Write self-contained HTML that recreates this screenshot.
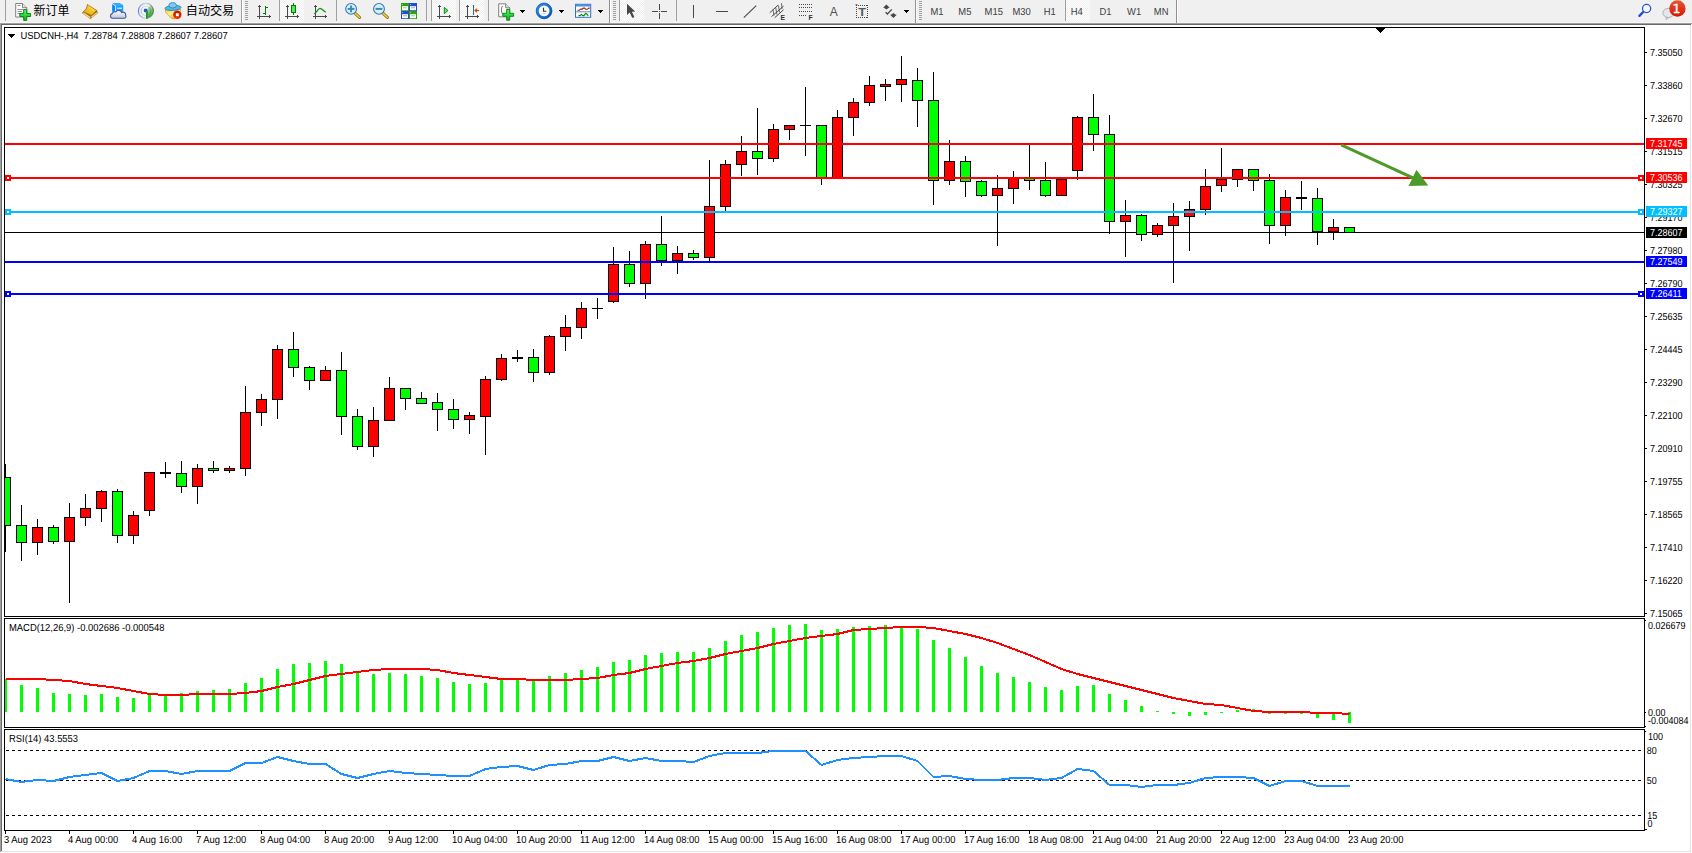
<!DOCTYPE html>
<html><head><meta charset="utf-8"><title>USDCNH-,H4</title>
<style>
html,body{margin:0;padding:0;background:#fff;overflow:hidden}
body{width:1692px;height:853px}
svg{display:block;font-family:"Liberation Sans","Noto Sans CJK SC",sans-serif}
svg text{white-space:pre}
</style></head><body>
<svg width="1692" height="853" viewBox="0 0 1692 853" shape-rendering="crispEdges">
<rect x="0" y="0" width="1692" height="853" fill="#fff"/>
<rect x="0" y="0" width="1692" height="22" fill="#f0f0f0"/>
<rect x="0" y="22" width="1692" height="1" fill="#f6f6f6"/>
<rect x="0" y="23" width="1692" height="1" fill="#a0a0a0"/>
<rect x="0" y="24" width="1691" height="1" fill="#696969"/>
<rect x="0" y="24" width="1" height="828" fill="#a0a0a0"/>
<rect x="1" y="25" width="1" height="826" fill="#696969"/>
<rect x="1690" y="25" width="1" height="827" fill="#e3e3e3"/>
<rect x="1" y="851" width="1690" height="1" fill="#e3e3e3"/>
<rect x="1691" y="24" width="1" height="829" fill="#ffffff"/>
<rect x="0" y="852" width="1692" height="1" fill="#ffffff"/>
<rect x="4" y="27" width="1641" height="1" fill="#000"/>
<rect x="4" y="616" width="1641" height="1" fill="#000"/>
<rect x="4" y="27" width="1" height="590" fill="#000"/>
<rect x="1644" y="27" width="1" height="590" fill="#000"/>
<rect x="4" y="618" width="1641" height="1" fill="#000"/>
<rect x="4" y="727" width="1641" height="1" fill="#000"/>
<rect x="4" y="618" width="1" height="110" fill="#000"/>
<rect x="1644" y="618" width="1" height="110" fill="#000"/>
<rect x="4" y="729" width="1641" height="1" fill="#000"/>
<rect x="4" y="830" width="1641" height="1" fill="#000"/>
<rect x="4" y="729" width="1" height="102" fill="#000"/>
<rect x="1644" y="729" width="1" height="102" fill="#000"/>
<clipPath id="cp"><rect x="5" y="28" width="1639" height="588"/></clipPath>
<g clip-path="url(#cp)">
<rect x="5" y="232" width="1639" height="1" fill="#000"/>
<rect x="5" y="464" width="1" height="88" fill="#000"/>
<rect x="0" y="477" width="11" height="49" fill="#000"/>
<rect x="1" y="478" width="9" height="47" fill="#00ff00"/>
<rect x="21" y="505" width="1" height="56" fill="#000"/>
<rect x="16" y="525" width="11" height="18" fill="#000"/>
<rect x="17" y="526" width="9" height="16" fill="#00ff00"/>
<rect x="37" y="519" width="1" height="36" fill="#000"/>
<rect x="32" y="527" width="11" height="16" fill="#000"/>
<rect x="33" y="528" width="9" height="14" fill="#ff0000"/>
<rect x="53" y="525" width="1" height="19" fill="#000"/>
<rect x="48" y="527" width="11" height="15" fill="#000"/>
<rect x="49" y="528" width="9" height="13" fill="#00ff00"/>
<rect x="69" y="503" width="1" height="100" fill="#000"/>
<rect x="64" y="517" width="11" height="25" fill="#000"/>
<rect x="65" y="518" width="9" height="23" fill="#ff0000"/>
<rect x="85" y="494" width="1" height="32" fill="#000"/>
<rect x="80" y="508" width="11" height="10" fill="#000"/>
<rect x="81" y="509" width="9" height="8" fill="#ff0000"/>
<rect x="101" y="490" width="1" height="32" fill="#000"/>
<rect x="96" y="491" width="11" height="18" fill="#000"/>
<rect x="97" y="492" width="9" height="16" fill="#ff0000"/>
<rect x="117" y="489" width="1" height="54" fill="#000"/>
<rect x="112" y="491" width="11" height="45" fill="#000"/>
<rect x="113" y="492" width="9" height="43" fill="#00ff00"/>
<rect x="133" y="511" width="1" height="33" fill="#000"/>
<rect x="128" y="515" width="11" height="21" fill="#000"/>
<rect x="129" y="516" width="9" height="19" fill="#ff0000"/>
<rect x="149" y="472" width="1" height="44" fill="#000"/>
<rect x="144" y="472" width="11" height="39" fill="#000"/>
<rect x="145" y="473" width="9" height="37" fill="#ff0000"/>
<rect x="165" y="462" width="1" height="16" fill="#000"/>
<rect x="160" y="472" width="11" height="2" fill="#000"/>
<rect x="181" y="461" width="1" height="32" fill="#000"/>
<rect x="176" y="473" width="11" height="14" fill="#000"/>
<rect x="177" y="474" width="9" height="12" fill="#00ff00"/>
<rect x="197" y="464" width="1" height="40" fill="#000"/>
<rect x="192" y="468" width="11" height="19" fill="#000"/>
<rect x="193" y="469" width="9" height="17" fill="#ff0000"/>
<rect x="213" y="461" width="1" height="12" fill="#000"/>
<rect x="208" y="468" width="11" height="3" fill="#000"/>
<rect x="209" y="469" width="9" height="1" fill="#00ff00"/>
<rect x="229" y="466" width="1" height="7" fill="#000"/>
<rect x="224" y="468" width="11" height="3" fill="#000"/>
<rect x="225" y="469" width="9" height="1" fill="#ff0000"/>
<rect x="245" y="386" width="1" height="90" fill="#000"/>
<rect x="240" y="412" width="11" height="57" fill="#000"/>
<rect x="241" y="413" width="9" height="55" fill="#ff0000"/>
<rect x="261" y="394" width="1" height="32" fill="#000"/>
<rect x="256" y="399" width="11" height="14" fill="#000"/>
<rect x="257" y="400" width="9" height="12" fill="#ff0000"/>
<rect x="277" y="345" width="1" height="74" fill="#000"/>
<rect x="272" y="349" width="11" height="51" fill="#000"/>
<rect x="273" y="350" width="9" height="49" fill="#ff0000"/>
<rect x="293" y="332" width="1" height="45" fill="#000"/>
<rect x="288" y="349" width="11" height="19" fill="#000"/>
<rect x="289" y="350" width="9" height="17" fill="#00ff00"/>
<rect x="309" y="366" width="1" height="24" fill="#000"/>
<rect x="304" y="367" width="11" height="14" fill="#000"/>
<rect x="305" y="368" width="9" height="12" fill="#00ff00"/>
<rect x="325" y="366" width="1" height="15" fill="#000"/>
<rect x="320" y="370" width="11" height="11" fill="#000"/>
<rect x="321" y="371" width="9" height="9" fill="#ff0000"/>
<rect x="341" y="352" width="1" height="83" fill="#000"/>
<rect x="336" y="370" width="11" height="47" fill="#000"/>
<rect x="337" y="371" width="9" height="45" fill="#00ff00"/>
<rect x="357" y="409" width="1" height="41" fill="#000"/>
<rect x="352" y="416" width="11" height="31" fill="#000"/>
<rect x="353" y="417" width="9" height="29" fill="#00ff00"/>
<rect x="373" y="407" width="1" height="50" fill="#000"/>
<rect x="368" y="420" width="11" height="27" fill="#000"/>
<rect x="369" y="421" width="9" height="25" fill="#ff0000"/>
<rect x="389" y="377" width="1" height="44" fill="#000"/>
<rect x="384" y="388" width="11" height="33" fill="#000"/>
<rect x="385" y="389" width="9" height="31" fill="#ff0000"/>
<rect x="405" y="388" width="1" height="22" fill="#000"/>
<rect x="400" y="388" width="11" height="11" fill="#000"/>
<rect x="401" y="389" width="9" height="9" fill="#00ff00"/>
<rect x="421" y="392" width="1" height="12" fill="#000"/>
<rect x="416" y="398" width="11" height="6" fill="#000"/>
<rect x="417" y="399" width="9" height="4" fill="#00ff00"/>
<rect x="437" y="393" width="1" height="38" fill="#000"/>
<rect x="432" y="402" width="11" height="8" fill="#000"/>
<rect x="433" y="403" width="9" height="6" fill="#00ff00"/>
<rect x="453" y="399" width="1" height="30" fill="#000"/>
<rect x="448" y="409" width="11" height="11" fill="#000"/>
<rect x="449" y="410" width="9" height="9" fill="#00ff00"/>
<rect x="469" y="412" width="1" height="22" fill="#000"/>
<rect x="464" y="415" width="11" height="5" fill="#000"/>
<rect x="465" y="416" width="9" height="3" fill="#ff0000"/>
<rect x="485" y="376" width="1" height="79" fill="#000"/>
<rect x="480" y="379" width="11" height="38" fill="#000"/>
<rect x="481" y="380" width="9" height="36" fill="#ff0000"/>
<rect x="501" y="354" width="1" height="27" fill="#000"/>
<rect x="496" y="358" width="11" height="22" fill="#000"/>
<rect x="497" y="359" width="9" height="20" fill="#ff0000"/>
<rect x="517" y="350" width="1" height="12" fill="#000"/>
<rect x="512" y="357" width="11" height="2" fill="#000"/>
<rect x="533" y="349" width="1" height="33" fill="#000"/>
<rect x="528" y="357" width="11" height="16" fill="#000"/>
<rect x="529" y="358" width="9" height="14" fill="#00ff00"/>
<rect x="549" y="335" width="1" height="40" fill="#000"/>
<rect x="544" y="336" width="11" height="37" fill="#000"/>
<rect x="545" y="337" width="9" height="35" fill="#ff0000"/>
<rect x="565" y="315" width="1" height="36" fill="#000"/>
<rect x="560" y="327" width="11" height="10" fill="#000"/>
<rect x="561" y="328" width="9" height="8" fill="#ff0000"/>
<rect x="581" y="302" width="1" height="37" fill="#000"/>
<rect x="576" y="308" width="11" height="20" fill="#000"/>
<rect x="577" y="309" width="9" height="18" fill="#ff0000"/>
<rect x="597" y="298" width="1" height="21" fill="#000"/>
<rect x="592" y="308" width="11" height="1" fill="#000"/>
<rect x="613" y="247" width="1" height="56" fill="#000"/>
<rect x="608" y="264" width="11" height="38" fill="#000"/>
<rect x="609" y="265" width="9" height="36" fill="#ff0000"/>
<rect x="629" y="251" width="1" height="36" fill="#000"/>
<rect x="624" y="264" width="11" height="20" fill="#000"/>
<rect x="625" y="265" width="9" height="18" fill="#00ff00"/>
<rect x="645" y="241" width="1" height="58" fill="#000"/>
<rect x="640" y="244" width="11" height="40" fill="#000"/>
<rect x="641" y="245" width="9" height="38" fill="#ff0000"/>
<rect x="661" y="216" width="1" height="50" fill="#000"/>
<rect x="656" y="244" width="11" height="17" fill="#000"/>
<rect x="657" y="245" width="9" height="15" fill="#00ff00"/>
<rect x="677" y="246" width="1" height="28" fill="#000"/>
<rect x="672" y="253" width="11" height="8" fill="#000"/>
<rect x="673" y="254" width="9" height="6" fill="#ff0000"/>
<rect x="693" y="250" width="1" height="10" fill="#000"/>
<rect x="688" y="253" width="11" height="5" fill="#000"/>
<rect x="689" y="254" width="9" height="3" fill="#00ff00"/>
<rect x="709" y="160" width="1" height="102" fill="#000"/>
<rect x="704" y="206" width="11" height="52" fill="#000"/>
<rect x="705" y="207" width="9" height="50" fill="#ff0000"/>
<rect x="725" y="160" width="1" height="51" fill="#000"/>
<rect x="720" y="164" width="11" height="43" fill="#000"/>
<rect x="721" y="165" width="9" height="41" fill="#ff0000"/>
<rect x="741" y="136" width="1" height="40" fill="#000"/>
<rect x="736" y="151" width="11" height="14" fill="#000"/>
<rect x="737" y="152" width="9" height="12" fill="#ff0000"/>
<rect x="757" y="108" width="1" height="67" fill="#000"/>
<rect x="752" y="151" width="11" height="8" fill="#000"/>
<rect x="753" y="152" width="9" height="6" fill="#00ff00"/>
<rect x="773" y="124" width="1" height="38" fill="#000"/>
<rect x="768" y="129" width="11" height="30" fill="#000"/>
<rect x="769" y="130" width="9" height="28" fill="#ff0000"/>
<rect x="789" y="125" width="1" height="15" fill="#000"/>
<rect x="784" y="125" width="11" height="5" fill="#000"/>
<rect x="785" y="126" width="9" height="3" fill="#ff0000"/>
<rect x="805" y="87" width="1" height="69" fill="#000"/>
<rect x="800" y="125" width="11" height="1" fill="#000"/>
<rect x="821" y="125" width="1" height="60" fill="#000"/>
<rect x="816" y="125" width="11" height="53" fill="#000"/>
<rect x="817" y="126" width="9" height="51" fill="#00ff00"/>
<rect x="837" y="110" width="1" height="68" fill="#000"/>
<rect x="832" y="117" width="11" height="61" fill="#000"/>
<rect x="833" y="118" width="9" height="59" fill="#ff0000"/>
<rect x="853" y="98" width="1" height="38" fill="#000"/>
<rect x="848" y="102" width="11" height="16" fill="#000"/>
<rect x="849" y="103" width="9" height="14" fill="#ff0000"/>
<rect x="869" y="76" width="1" height="30" fill="#000"/>
<rect x="864" y="85" width="11" height="18" fill="#000"/>
<rect x="865" y="86" width="9" height="16" fill="#ff0000"/>
<rect x="885" y="79" width="1" height="22" fill="#000"/>
<rect x="880" y="84" width="11" height="3" fill="#000"/>
<rect x="881" y="85" width="9" height="1" fill="#ff0000"/>
<rect x="901" y="56" width="1" height="46" fill="#000"/>
<rect x="896" y="79" width="11" height="6" fill="#000"/>
<rect x="897" y="80" width="9" height="4" fill="#ff0000"/>
<rect x="917" y="68" width="1" height="59" fill="#000"/>
<rect x="912" y="80" width="11" height="21" fill="#000"/>
<rect x="913" y="81" width="9" height="19" fill="#00ff00"/>
<rect x="933" y="72" width="1" height="133" fill="#000"/>
<rect x="928" y="100" width="11" height="81" fill="#000"/>
<rect x="929" y="101" width="9" height="79" fill="#00ff00"/>
<rect x="949" y="140" width="1" height="45" fill="#000"/>
<rect x="944" y="161" width="11" height="20" fill="#000"/>
<rect x="945" y="162" width="9" height="18" fill="#ff0000"/>
<rect x="965" y="156" width="1" height="41" fill="#000"/>
<rect x="960" y="161" width="11" height="21" fill="#000"/>
<rect x="961" y="162" width="9" height="19" fill="#00ff00"/>
<rect x="981" y="180" width="1" height="17" fill="#000"/>
<rect x="976" y="181" width="11" height="15" fill="#000"/>
<rect x="977" y="182" width="9" height="13" fill="#00ff00"/>
<rect x="997" y="175" width="1" height="71" fill="#000"/>
<rect x="992" y="188" width="11" height="8" fill="#000"/>
<rect x="993" y="189" width="9" height="6" fill="#ff0000"/>
<rect x="1013" y="171" width="1" height="33" fill="#000"/>
<rect x="1008" y="177" width="11" height="12" fill="#000"/>
<rect x="1009" y="178" width="9" height="10" fill="#ff0000"/>
<rect x="1029" y="144" width="1" height="46" fill="#000"/>
<rect x="1024" y="177" width="11" height="4" fill="#000"/>
<rect x="1025" y="178" width="9" height="2" fill="#00ff00"/>
<rect x="1045" y="162" width="1" height="35" fill="#000"/>
<rect x="1040" y="180" width="11" height="16" fill="#000"/>
<rect x="1041" y="181" width="9" height="14" fill="#00ff00"/>
<rect x="1061" y="178" width="1" height="18" fill="#000"/>
<rect x="1056" y="179" width="11" height="17" fill="#000"/>
<rect x="1057" y="180" width="9" height="15" fill="#ff0000"/>
<rect x="1077" y="116" width="1" height="64" fill="#000"/>
<rect x="1072" y="117" width="11" height="54" fill="#000"/>
<rect x="1073" y="118" width="9" height="52" fill="#ff0000"/>
<rect x="1093" y="94" width="1" height="57" fill="#000"/>
<rect x="1088" y="117" width="11" height="18" fill="#000"/>
<rect x="1089" y="118" width="9" height="16" fill="#00ff00"/>
<rect x="1109" y="115" width="1" height="119" fill="#000"/>
<rect x="1104" y="134" width="11" height="88" fill="#000"/>
<rect x="1105" y="135" width="9" height="86" fill="#00ff00"/>
<rect x="1125" y="200" width="1" height="57" fill="#000"/>
<rect x="1120" y="215" width="11" height="7" fill="#000"/>
<rect x="1121" y="216" width="9" height="5" fill="#ff0000"/>
<rect x="1141" y="214" width="1" height="27" fill="#000"/>
<rect x="1136" y="215" width="11" height="20" fill="#000"/>
<rect x="1137" y="216" width="9" height="18" fill="#00ff00"/>
<rect x="1157" y="223" width="1" height="14" fill="#000"/>
<rect x="1152" y="225" width="11" height="10" fill="#000"/>
<rect x="1153" y="226" width="9" height="8" fill="#ff0000"/>
<rect x="1173" y="203" width="1" height="80" fill="#000"/>
<rect x="1168" y="216" width="11" height="10" fill="#000"/>
<rect x="1169" y="217" width="9" height="8" fill="#ff0000"/>
<rect x="1189" y="201" width="1" height="50" fill="#000"/>
<rect x="1184" y="209" width="11" height="8" fill="#000"/>
<rect x="1185" y="210" width="9" height="6" fill="#ff0000"/>
<rect x="1205" y="169" width="1" height="46" fill="#000"/>
<rect x="1200" y="186" width="11" height="24" fill="#000"/>
<rect x="1201" y="187" width="9" height="22" fill="#ff0000"/>
<rect x="1221" y="148" width="1" height="44" fill="#000"/>
<rect x="1216" y="179" width="11" height="7" fill="#000"/>
<rect x="1217" y="180" width="9" height="5" fill="#ff0000"/>
<rect x="1237" y="169" width="1" height="18" fill="#000"/>
<rect x="1232" y="169" width="11" height="11" fill="#000"/>
<rect x="1233" y="170" width="9" height="9" fill="#ff0000"/>
<rect x="1253" y="169" width="1" height="22" fill="#000"/>
<rect x="1248" y="169" width="11" height="12" fill="#000"/>
<rect x="1249" y="170" width="9" height="10" fill="#00ff00"/>
<rect x="1269" y="174" width="1" height="70" fill="#000"/>
<rect x="1264" y="180" width="11" height="46" fill="#000"/>
<rect x="1265" y="181" width="9" height="44" fill="#00ff00"/>
<rect x="1285" y="190" width="1" height="46" fill="#000"/>
<rect x="1280" y="197" width="11" height="29" fill="#000"/>
<rect x="1281" y="198" width="9" height="27" fill="#ff0000"/>
<rect x="1301" y="181" width="1" height="29" fill="#000"/>
<rect x="1296" y="197" width="11" height="2" fill="#000"/>
<rect x="1317" y="188" width="1" height="57" fill="#000"/>
<rect x="1312" y="198" width="11" height="34" fill="#000"/>
<rect x="1313" y="199" width="9" height="32" fill="#00ff00"/>
<rect x="1333" y="219" width="1" height="21" fill="#000"/>
<rect x="1328" y="227" width="11" height="5" fill="#000"/>
<rect x="1329" y="228" width="9" height="3" fill="#ff0000"/>
<rect x="1349" y="227" width="1" height="6" fill="#000"/>
<rect x="1344" y="227" width="11" height="6" fill="#000"/>
<rect x="1345" y="228" width="9" height="4" fill="#00ff00"/>
<rect x="5" y="143" width="1639" height="2" fill="#ff0000"/>
<rect x="5" y="177" width="1639" height="2" fill="#ff0000"/>
<rect x="5" y="175" width="6" height="6" fill="#ff0000"/>
<rect x="7" y="177" width="2" height="2" fill="#fff"/>
<rect x="1638" y="175" width="6" height="6" fill="#ff0000"/>
<rect x="1640" y="177" width="2" height="2" fill="#fff"/>
<rect x="5" y="211" width="1639" height="2" fill="#00bfff"/>
<rect x="5" y="209" width="6" height="6" fill="#00bfff"/>
<rect x="7" y="211" width="2" height="2" fill="#fff"/>
<rect x="1638" y="209" width="6" height="6" fill="#00bfff"/>
<rect x="1640" y="211" width="2" height="2" fill="#fff"/>
<rect x="5" y="261" width="1639" height="2" fill="#0000ff"/>
<rect x="5" y="293" width="1639" height="2" fill="#0000ff"/>
<rect x="5" y="291" width="6" height="6" fill="#0000ff"/>
<rect x="7" y="293" width="2" height="2" fill="#fff"/>
<rect x="1638" y="291" width="6" height="6" fill="#0000ff"/>
<rect x="1640" y="293" width="2" height="2" fill="#fff"/>
</g>
<g shape-rendering="geometricPrecision"><line x1="1341.2" y1="144.8" x2="1414" y2="178.4" stroke="#4c9a2a" stroke-width="3" stroke-linecap="butt"/><polygon points="1416.4,169.8 1408.6,186 1428.3,185.5" fill="#4c9a2a"/></g>
<rect x="1376" y="28" width="9" height="1" fill="#000"/>
<rect x="1377" y="29" width="7" height="1" fill="#000"/>
<rect x="1378" y="30" width="5" height="1" fill="#000"/>
<rect x="1379" y="31" width="3" height="1" fill="#000"/>
<rect x="1380" y="32" width="1" height="1" fill="#000"/>
<g class="t">
<rect x="1645" y="52" width="2" height="1" fill="#000"/>
<text transform="translate(1650,56) scale(0.8816,1)" fill="#000" font-size="10.2" text-rendering="geometricPrecision">7.35050</text>
<rect x="1645" y="85" width="2" height="1" fill="#000"/>
<text transform="translate(1650,89) scale(0.8816,1)" fill="#000" font-size="10.2" text-rendering="geometricPrecision">7.33860</text>
<rect x="1645" y="118" width="2" height="1" fill="#000"/>
<text transform="translate(1650,122) scale(0.8816,1)" fill="#000" font-size="10.2" text-rendering="geometricPrecision">7.32670</text>
<rect x="1645" y="151" width="2" height="1" fill="#000"/>
<text transform="translate(1650,155) scale(0.8816,1)" fill="#000" font-size="10.2" text-rendering="geometricPrecision">7.31515</text>
<rect x="1645" y="184" width="2" height="1" fill="#000"/>
<text transform="translate(1650,188) scale(0.8816,1)" fill="#000" font-size="10.2" text-rendering="geometricPrecision">7.30325</text>
<rect x="1645" y="217" width="2" height="1" fill="#000"/>
<text transform="translate(1650,221) scale(0.8816,1)" fill="#000" font-size="10.2" text-rendering="geometricPrecision">7.29170</text>
<rect x="1645" y="250" width="2" height="1" fill="#000"/>
<text transform="translate(1650,254) scale(0.8816,1)" fill="#000" font-size="10.2" text-rendering="geometricPrecision">7.27980</text>
<rect x="1645" y="283" width="2" height="1" fill="#000"/>
<text transform="translate(1650,287) scale(0.8816,1)" fill="#000" font-size="10.2" text-rendering="geometricPrecision">7.26790</text>
<rect x="1645" y="316" width="2" height="1" fill="#000"/>
<text transform="translate(1650,320) scale(0.8816,1)" fill="#000" font-size="10.2" text-rendering="geometricPrecision">7.25635</text>
<rect x="1645" y="349" width="2" height="1" fill="#000"/>
<text transform="translate(1650,353) scale(0.8816,1)" fill="#000" font-size="10.2" text-rendering="geometricPrecision">7.24445</text>
<rect x="1645" y="382" width="2" height="1" fill="#000"/>
<text transform="translate(1650,386) scale(0.8816,1)" fill="#000" font-size="10.2" text-rendering="geometricPrecision">7.23290</text>
<rect x="1645" y="415" width="2" height="1" fill="#000"/>
<text transform="translate(1650,419) scale(0.8816,1)" fill="#000" font-size="10.2" text-rendering="geometricPrecision">7.22100</text>
<rect x="1645" y="448" width="2" height="1" fill="#000"/>
<text transform="translate(1650,452) scale(0.8816,1)" fill="#000" font-size="10.2" text-rendering="geometricPrecision">7.20910</text>
<rect x="1645" y="481" width="2" height="1" fill="#000"/>
<text transform="translate(1650,485) scale(0.8816,1)" fill="#000" font-size="10.2" text-rendering="geometricPrecision">7.19755</text>
<rect x="1645" y="514" width="2" height="1" fill="#000"/>
<text transform="translate(1650,518) scale(0.8816,1)" fill="#000" font-size="10.2" text-rendering="geometricPrecision">7.18565</text>
<rect x="1645" y="547" width="2" height="1" fill="#000"/>
<text transform="translate(1650,551) scale(0.8816,1)" fill="#000" font-size="10.2" text-rendering="geometricPrecision">7.17410</text>
<rect x="1645" y="580" width="2" height="1" fill="#000"/>
<text transform="translate(1650,584) scale(0.8816,1)" fill="#000" font-size="10.2" text-rendering="geometricPrecision">7.16220</text>
<rect x="1645" y="613" width="2" height="1" fill="#000"/>
<text transform="translate(1650,617) scale(0.8816,1)" fill="#000" font-size="10.2" text-rendering="geometricPrecision">7.15065</text>
<rect x="1646" y="138" width="41" height="11" fill="#ff0000"/>
<text transform="translate(1650,147) scale(0.8816,1)" fill="#fff" font-size="10.2" text-rendering="geometricPrecision">7.31745</text>
<rect x="1646" y="172" width="41" height="11" fill="#ff0000"/>
<text transform="translate(1650,181) scale(0.8816,1)" fill="#fff" font-size="10.2" text-rendering="geometricPrecision">7.30536</text>
<rect x="1646" y="206" width="41" height="11" fill="#00bfff"/>
<text transform="translate(1650,215) scale(0.8816,1)" fill="#fff" font-size="10.2" text-rendering="geometricPrecision">7.29327</text>
<rect x="1646" y="256" width="41" height="11" fill="#0000ff"/>
<text transform="translate(1650,265) scale(0.8816,1)" fill="#fff" font-size="10.2" text-rendering="geometricPrecision">7.27549</text>
<rect x="1646" y="288" width="41" height="11" fill="#0000ff"/>
<text transform="translate(1650,297) scale(0.8816,1)" fill="#fff" font-size="10.2" text-rendering="geometricPrecision">7.26411</text>
<rect x="1646" y="227" width="41" height="11" fill="#000"/>
<text transform="translate(1650,236) scale(0.8816,1)" fill="#fff" font-size="10.2" text-rendering="geometricPrecision">7.28607</text>
<text transform="translate(1648,629) scale(0.8816,1)" fill="#000" font-size="10.2" text-rendering="geometricPrecision">0.026679</text>
<rect x="1645" y="620" width="1" height="1" fill="#000"/>
<rect x="1645" y="712" width="1" height="1" fill="#000"/>
<rect x="1645" y="726" width="1" height="1" fill="#000"/>
<rect x="1645" y="731" width="1" height="1" fill="#000"/>
<text transform="translate(1648,716) scale(0.8816,1)" fill="#000" font-size="10.2" text-rendering="geometricPrecision">0.00</text>
<text transform="translate(1648,724) scale(0.8816,1)" fill="#000" font-size="10.2" text-rendering="geometricPrecision">-0.004084</text>
<text transform="translate(1648,740) scale(0.8816,1)" fill="#000" font-size="10.2" text-rendering="geometricPrecision">100</text>
<text transform="translate(1646.7,754) scale(0.8816,1)" fill="#000" font-size="10.2" text-rendering="geometricPrecision">80</text>
<text transform="translate(1646.7,784) scale(0.8816,1)" fill="#000" font-size="10.2" text-rendering="geometricPrecision">50</text>
<text transform="translate(1647.2,819) scale(0.8816,1)" fill="#000" font-size="10.2" text-rendering="geometricPrecision">15</text>
<text transform="translate(1647.6,827) scale(0.8816,1)" fill="#000" font-size="10.2" text-rendering="geometricPrecision">0</text>
<rect x="1645" y="829" width="2" height="1" fill="#000"/>
<text transform="translate(20.5,39) scale(0.924,1)" fill="#000" font-size="10.2" text-rendering="geometricPrecision">USDCNH-,H4&#160;&#160;7.28784 7.28808 7.28607 7.28607</text>
<rect x="8" y="34" width="7" height="1" fill="#000"/>
<rect x="9" y="35" width="5" height="1" fill="#000"/>
<rect x="10" y="36" width="3" height="1" fill="#000"/>
<rect x="11" y="37" width="1" height="1" fill="#000"/>
<text transform="translate(9,631) scale(0.924,1)" fill="#000" font-size="10.2" text-rendering="geometricPrecision">MACD(12,26,9) -0.002686 -0.000548</text>
<text transform="translate(9,742) scale(0.924,1)" fill="#000" font-size="10.2" text-rendering="geometricPrecision">RSI(14) 43.5553</text>
<rect x="5" y="831" width="1" height="3" fill="#000"/>
<text transform="translate(4,843) scale(0.924,1)" fill="#000" font-size="10.2" text-rendering="geometricPrecision">3 Aug 2023</text>
<rect x="69" y="831" width="1" height="3" fill="#000"/>
<text transform="translate(68,843) scale(0.924,1)" fill="#000" font-size="10.2" text-rendering="geometricPrecision">4 Aug 00:00</text>
<rect x="133" y="831" width="1" height="3" fill="#000"/>
<text transform="translate(132,843) scale(0.924,1)" fill="#000" font-size="10.2" text-rendering="geometricPrecision">4 Aug 16:00</text>
<rect x="197" y="831" width="1" height="3" fill="#000"/>
<text transform="translate(196,843) scale(0.924,1)" fill="#000" font-size="10.2" text-rendering="geometricPrecision">7 Aug 12:00</text>
<rect x="261" y="831" width="1" height="3" fill="#000"/>
<text transform="translate(260,843) scale(0.924,1)" fill="#000" font-size="10.2" text-rendering="geometricPrecision">8 Aug 04:00</text>
<rect x="325" y="831" width="1" height="3" fill="#000"/>
<text transform="translate(324,843) scale(0.924,1)" fill="#000" font-size="10.2" text-rendering="geometricPrecision">8 Aug 20:00</text>
<rect x="389" y="831" width="1" height="3" fill="#000"/>
<text transform="translate(388,843) scale(0.924,1)" fill="#000" font-size="10.2" text-rendering="geometricPrecision">9 Aug 12:00</text>
<rect x="453" y="831" width="1" height="3" fill="#000"/>
<text transform="translate(452,843) scale(0.924,1)" fill="#000" font-size="10.2" text-rendering="geometricPrecision">10 Aug 04:00</text>
<rect x="517" y="831" width="1" height="3" fill="#000"/>
<text transform="translate(516,843) scale(0.924,1)" fill="#000" font-size="10.2" text-rendering="geometricPrecision">10 Aug 20:00</text>
<rect x="581" y="831" width="1" height="3" fill="#000"/>
<text transform="translate(580,843) scale(0.924,1)" fill="#000" font-size="10.2" text-rendering="geometricPrecision">11 Aug 12:00</text>
<rect x="645" y="831" width="1" height="3" fill="#000"/>
<text transform="translate(644,843) scale(0.924,1)" fill="#000" font-size="10.2" text-rendering="geometricPrecision">14 Aug 08:00</text>
<rect x="709" y="831" width="1" height="3" fill="#000"/>
<text transform="translate(708,843) scale(0.924,1)" fill="#000" font-size="10.2" text-rendering="geometricPrecision">15 Aug 00:00</text>
<rect x="773" y="831" width="1" height="3" fill="#000"/>
<text transform="translate(772,843) scale(0.924,1)" fill="#000" font-size="10.2" text-rendering="geometricPrecision">15 Aug 16:00</text>
<rect x="837" y="831" width="1" height="3" fill="#000"/>
<text transform="translate(836,843) scale(0.924,1)" fill="#000" font-size="10.2" text-rendering="geometricPrecision">16 Aug 08:00</text>
<rect x="901" y="831" width="1" height="3" fill="#000"/>
<text transform="translate(900,843) scale(0.924,1)" fill="#000" font-size="10.2" text-rendering="geometricPrecision">17 Aug 00:00</text>
<rect x="965" y="831" width="1" height="3" fill="#000"/>
<text transform="translate(964,843) scale(0.924,1)" fill="#000" font-size="10.2" text-rendering="geometricPrecision">17 Aug 16:00</text>
<rect x="1029" y="831" width="1" height="3" fill="#000"/>
<text transform="translate(1028,843) scale(0.924,1)" fill="#000" font-size="10.2" text-rendering="geometricPrecision">18 Aug 08:00</text>
<rect x="1093" y="831" width="1" height="3" fill="#000"/>
<text transform="translate(1092,843) scale(0.924,1)" fill="#000" font-size="10.2" text-rendering="geometricPrecision">21 Aug 04:00</text>
<rect x="1157" y="831" width="1" height="3" fill="#000"/>
<text transform="translate(1156,843) scale(0.924,1)" fill="#000" font-size="10.2" text-rendering="geometricPrecision">21 Aug 20:00</text>
<rect x="1221" y="831" width="1" height="3" fill="#000"/>
<text transform="translate(1220,843) scale(0.924,1)" fill="#000" font-size="10.2" text-rendering="geometricPrecision">22 Aug 12:00</text>
<rect x="1285" y="831" width="1" height="3" fill="#000"/>
<text transform="translate(1284,843) scale(0.924,1)" fill="#000" font-size="10.2" text-rendering="geometricPrecision">23 Aug 04:00</text>
<rect x="1349" y="831" width="1" height="3" fill="#000"/>
<text transform="translate(1348,843) scale(0.924,1)" fill="#000" font-size="10.2" text-rendering="geometricPrecision">23 Aug 20:00</text>
</g>
<rect x="5" y="679" width="2" height="33" fill="#00ff00"/>
<rect x="20" y="685" width="3" height="27" fill="#00ff00"/>
<rect x="36" y="688" width="3" height="24" fill="#00ff00"/>
<rect x="52" y="693" width="3" height="19" fill="#00ff00"/>
<rect x="68" y="694" width="3" height="18" fill="#00ff00"/>
<rect x="84" y="695" width="3" height="17" fill="#00ff00"/>
<rect x="100" y="694" width="3" height="18" fill="#00ff00"/>
<rect x="116" y="697" width="3" height="15" fill="#00ff00"/>
<rect x="132" y="698" width="3" height="14" fill="#00ff00"/>
<rect x="148" y="695" width="3" height="17" fill="#00ff00"/>
<rect x="164" y="694" width="3" height="18" fill="#00ff00"/>
<rect x="180" y="693" width="3" height="19" fill="#00ff00"/>
<rect x="196" y="691" width="3" height="21" fill="#00ff00"/>
<rect x="212" y="690" width="3" height="22" fill="#00ff00"/>
<rect x="228" y="689" width="3" height="23" fill="#00ff00"/>
<rect x="244" y="683" width="3" height="29" fill="#00ff00"/>
<rect x="260" y="678" width="3" height="34" fill="#00ff00"/>
<rect x="276" y="669" width="3" height="43" fill="#00ff00"/>
<rect x="292" y="664" width="3" height="48" fill="#00ff00"/>
<rect x="308" y="663" width="3" height="49" fill="#00ff00"/>
<rect x="324" y="661" width="3" height="51" fill="#00ff00"/>
<rect x="340" y="664" width="3" height="48" fill="#00ff00"/>
<rect x="356" y="672" width="3" height="40" fill="#00ff00"/>
<rect x="372" y="674" width="3" height="38" fill="#00ff00"/>
<rect x="388" y="673" width="3" height="39" fill="#00ff00"/>
<rect x="404" y="674" width="3" height="38" fill="#00ff00"/>
<rect x="420" y="676" width="3" height="36" fill="#00ff00"/>
<rect x="436" y="678" width="3" height="34" fill="#00ff00"/>
<rect x="452" y="682" width="3" height="30" fill="#00ff00"/>
<rect x="468" y="684" width="3" height="28" fill="#00ff00"/>
<rect x="484" y="683" width="3" height="29" fill="#00ff00"/>
<rect x="500" y="679" width="3" height="33" fill="#00ff00"/>
<rect x="516" y="679" width="3" height="33" fill="#00ff00"/>
<rect x="532" y="679" width="3" height="33" fill="#00ff00"/>
<rect x="548" y="676" width="3" height="36" fill="#00ff00"/>
<rect x="564" y="673" width="3" height="39" fill="#00ff00"/>
<rect x="580" y="670" width="3" height="42" fill="#00ff00"/>
<rect x="596" y="667" width="3" height="45" fill="#00ff00"/>
<rect x="612" y="662" width="3" height="50" fill="#00ff00"/>
<rect x="628" y="660" width="3" height="52" fill="#00ff00"/>
<rect x="644" y="655" width="3" height="57" fill="#00ff00"/>
<rect x="660" y="653" width="3" height="59" fill="#00ff00"/>
<rect x="676" y="652" width="3" height="60" fill="#00ff00"/>
<rect x="692" y="652" width="3" height="60" fill="#00ff00"/>
<rect x="708" y="648" width="3" height="64" fill="#00ff00"/>
<rect x="724" y="641" width="3" height="71" fill="#00ff00"/>
<rect x="740" y="635" width="3" height="77" fill="#00ff00"/>
<rect x="756" y="632" width="3" height="80" fill="#00ff00"/>
<rect x="772" y="628" width="3" height="84" fill="#00ff00"/>
<rect x="788" y="625" width="3" height="87" fill="#00ff00"/>
<rect x="804" y="624" width="3" height="88" fill="#00ff00"/>
<rect x="820" y="630" width="3" height="82" fill="#00ff00"/>
<rect x="836" y="629" width="3" height="83" fill="#00ff00"/>
<rect x="852" y="627" width="3" height="85" fill="#00ff00"/>
<rect x="868" y="626" width="3" height="86" fill="#00ff00"/>
<rect x="884" y="625" width="3" height="87" fill="#00ff00"/>
<rect x="900" y="626" width="3" height="86" fill="#00ff00"/>
<rect x="916" y="629" width="3" height="83" fill="#00ff00"/>
<rect x="932" y="640" width="3" height="72" fill="#00ff00"/>
<rect x="948" y="648" width="3" height="64" fill="#00ff00"/>
<rect x="964" y="657" width="3" height="55" fill="#00ff00"/>
<rect x="980" y="666" width="3" height="46" fill="#00ff00"/>
<rect x="996" y="673" width="3" height="39" fill="#00ff00"/>
<rect x="1012" y="677" width="3" height="35" fill="#00ff00"/>
<rect x="1028" y="682" width="3" height="30" fill="#00ff00"/>
<rect x="1044" y="687" width="3" height="25" fill="#00ff00"/>
<rect x="1060" y="690" width="3" height="22" fill="#00ff00"/>
<rect x="1076" y="686" width="3" height="26" fill="#00ff00"/>
<rect x="1092" y="685" width="3" height="27" fill="#00ff00"/>
<rect x="1108" y="694" width="3" height="18" fill="#00ff00"/>
<rect x="1124" y="700" width="3" height="12" fill="#00ff00"/>
<rect x="1140" y="706" width="3" height="6" fill="#00ff00"/>
<rect x="1156" y="711" width="3" height="1" fill="#00ff00"/>
<rect x="1172" y="712" width="3" height="2" fill="#00ff00"/>
<rect x="1188" y="712" width="3" height="4" fill="#00ff00"/>
<rect x="1204" y="712" width="3" height="3" fill="#00ff00"/>
<rect x="1220" y="712" width="3" height="1" fill="#00ff00"/>
<rect x="1236" y="710" width="3" height="2" fill="#00ff00"/>
<rect x="1252" y="709" width="3" height="3" fill="#00ff00"/>
<rect x="1268" y="712" width="3" height="2" fill="#00ff00"/>
<rect x="1284" y="712" width="3" height="2" fill="#00ff00"/>
<rect x="1300" y="712" width="3" height="2" fill="#00ff00"/>
<rect x="1316" y="712" width="3" height="6" fill="#00ff00"/>
<rect x="1332" y="712" width="3" height="8" fill="#00ff00"/>
<rect x="1348" y="712" width="3" height="11" fill="#00ff00"/>
<polyline points="5.5,679 21.5,679 37.5,679 53.5,680 69.5,681 85.5,684 101.5,686 117.5,688 133.5,691 149.5,694 165.5,695 181.5,695 197.5,694 213.5,694 229.5,694 245.5,693 261.5,691 277.5,687 293.5,684 309.5,680 325.5,676 341.5,674 357.5,672 373.5,670 389.5,669 405.5,669 421.5,669 437.5,670 453.5,673 469.5,675 485.5,677 501.5,679 517.5,679 533.5,680 549.5,680 565.5,680 581.5,679 597.5,678 613.5,675 629.5,673 645.5,669 661.5,666 677.5,663 693.5,661 709.5,658 725.5,654 741.5,651 757.5,648 773.5,644 789.5,641 805.5,638 821.5,636 837.5,634 853.5,630 869.5,629 885.5,628 901.5,627 917.5,627 933.5,628 949.5,631 965.5,634 981.5,638 997.5,643 1013.5,649 1029.5,655 1045.5,662 1061.5,669 1077.5,674 1093.5,678 1109.5,682 1125.5,686 1141.5,690 1157.5,694 1173.5,698 1189.5,701 1205.5,704 1221.5,705 1237.5,708 1253.5,711 1269.5,712 1285.5,712 1301.5,712 1317.5,713 1333.5,713 1349.5,714" fill="none" stroke="#ff0000" stroke-width="2"/>
<line x1="6" y1="750.5" x2="1642" y2="750.5" stroke="#000" stroke-width="1" stroke-dasharray="3 3"/>
<line x1="6" y1="780.5" x2="1642" y2="780.5" stroke="#000" stroke-width="1" stroke-dasharray="3 3"/>
<line x1="6" y1="815.5" x2="1642" y2="815.5" stroke="#000" stroke-width="1" stroke-dasharray="3 3"/>
<polyline points="5.5,779 21.5,782 37.5,780 53.5,781 69.5,777 85.5,775 101.5,773 117.5,781 133.5,778 149.5,771 165.5,771 181.5,774 197.5,771 213.5,771 229.5,771 245.5,763 261.5,763 277.5,757 293.5,761 309.5,764 325.5,764 341.5,774 357.5,778 373.5,774 389.5,771 405.5,773 421.5,774 437.5,775 453.5,776 469.5,776 485.5,769 501.5,767 517.5,766 533.5,770 549.5,765 565.5,764 581.5,761 597.5,761 613.5,757 629.5,761 645.5,758 661.5,761 677.5,761 693.5,762 709.5,756 725.5,753 741.5,753 757.5,753 773.5,751 789.5,751 805.5,751 821.5,765 837.5,760 853.5,758 869.5,757 885.5,756 901.5,756 917.5,761 933.5,777 949.5,776 965.5,779 981.5,780 997.5,780 1013.5,778 1029.5,778 1045.5,780 1061.5,778 1077.5,769 1093.5,771 1109.5,785 1125.5,785 1141.5,787 1157.5,785 1173.5,785 1189.5,783 1205.5,778 1221.5,777 1237.5,777 1253.5,778 1269.5,786 1285.5,781 1301.5,781 1317.5,786 1333.5,786 1349.5,786" fill="none" stroke="#1e90ff" stroke-width="2"/>
<defs><pattern id="chk" width="2" height="2" patternUnits="userSpaceOnUse"><rect width="2" height="2" fill="#f0f0f0"/><rect width="1" height="1" fill="#fff"/><rect x="1" y="1" width="1" height="1" fill="#fff"/></pattern><linearGradient id="gpl" x1="0" y1="0" x2="0" y2="1"><stop offset="0" stop-color="#60ff70"/><stop offset="1" stop-color="#00b010"/></linearGradient><linearGradient id="gold" x1="1" y1="0" x2="0" y2="1"><stop offset="0" stop-color="#fff890"/><stop offset="0.45" stop-color="#f4c828"/><stop offset="1" stop-color="#e4a818"/></linearGradient><linearGradient id="cloud" x1="0" y1="0" x2="0" y2="1"><stop offset="0" stop-color="#ffffff"/><stop offset="1" stop-color="#b8c8e0"/></linearGradient><linearGradient id="badge" x1="0" y1="0" x2="0" y2="1"><stop offset="0" stop-color="#ea5535"/><stop offset="1" stop-color="#d41800"/></linearGradient><linearGradient id="clk" x1="0" y1="0" x2="1" y2="1"><stop offset="0" stop-color="#2a90f0"/><stop offset="1" stop-color="#0858b8"/></linearGradient><linearGradient id="sgn" x1="0" y1="0" x2="0.3" y2="1"><stop offset="0" stop-color="#d8ecd0"/><stop offset="1" stop-color="#38a030"/></linearGradient><linearGradient id="ring" x1="0" y1="0" x2="1" y2="0"><stop offset="0" stop-color="#2c5cd8"/><stop offset="0.5" stop-color="#90a8e0" stop-opacity="0.5"/><stop offset="1" stop-color="#2c6448"/></linearGradient><linearGradient id="face" x1="0" y1="0" x2="0.6" y2="1"><stop offset="0" stop-color="#f4d030"/><stop offset="0.5" stop-color="#fff088"/><stop offset="1" stop-color="#e8bc20"/></linearGradient><linearGradient id="stop" x1="0" y1="0" x2="0" y2="1"><stop offset="0" stop-color="#b81800"/><stop offset="1" stop-color="#f83000"/></linearGradient><radialGradient id="sig" cx="0.5" cy="0.5" r="0.5"><stop offset="0" stop-color="#ffffff"/><stop offset="1" stop-color="#d0e0f0"/></radialGradient></defs>
<rect x="280" y="0" width="24" height="22" fill="url(#chk)"/>
<rect x="432" y="0" width="24" height="22" fill="url(#chk)"/>
<rect x="460" y="0" width="24" height="22" fill="url(#chk)"/>
<rect x="620" y="0" width="24" height="22" fill="url(#chk)"/>
<rect x="1066" y="0" width="24" height="22" fill="url(#chk)"/>
<rect x="5" y="0" width="1" height="21" fill="#a0a0a0"/>
<rect x="241" y="0" width="1" height="23" fill="#a0a0a0"/>
<rect x="242" y="0" width="1" height="23" fill="#fff"/>
<rect x="245" y="1" width="3" height="1" fill="#a0a0a0"/>
<rect x="245" y="3" width="3" height="1" fill="#a0a0a0"/>
<rect x="245" y="5" width="3" height="1" fill="#a0a0a0"/>
<rect x="245" y="7" width="3" height="1" fill="#a0a0a0"/>
<rect x="245" y="9" width="3" height="1" fill="#a0a0a0"/>
<rect x="245" y="11" width="3" height="1" fill="#a0a0a0"/>
<rect x="245" y="13" width="3" height="1" fill="#a0a0a0"/>
<rect x="245" y="15" width="3" height="1" fill="#a0a0a0"/>
<rect x="245" y="17" width="3" height="1" fill="#a0a0a0"/>
<rect x="245" y="19" width="3" height="1" fill="#a0a0a0"/>
<rect x="279" y="0" width="1" height="21" fill="#a0a0a0"/>
<rect x="336" y="0" width="1" height="21" fill="#a0a0a0"/>
<rect x="426" y="0" width="1" height="21" fill="#a0a0a0"/>
<rect x="431" y="0" width="1" height="21" fill="#a0a0a0"/>
<rect x="459" y="0" width="1" height="21" fill="#a0a0a0"/>
<rect x="488" y="0" width="1" height="21" fill="#a0a0a0"/>
<rect x="609" y="0" width="1" height="23" fill="#909090"/>
<rect x="610" y="0" width="1" height="23" fill="#fff"/>
<rect x="613" y="1" width="3" height="1" fill="#a0a0a0"/>
<rect x="613" y="3" width="3" height="1" fill="#a0a0a0"/>
<rect x="613" y="5" width="3" height="1" fill="#a0a0a0"/>
<rect x="613" y="7" width="3" height="1" fill="#a0a0a0"/>
<rect x="613" y="9" width="3" height="1" fill="#a0a0a0"/>
<rect x="613" y="11" width="3" height="1" fill="#a0a0a0"/>
<rect x="613" y="13" width="3" height="1" fill="#a0a0a0"/>
<rect x="613" y="15" width="3" height="1" fill="#a0a0a0"/>
<rect x="613" y="17" width="3" height="1" fill="#a0a0a0"/>
<rect x="613" y="19" width="3" height="1" fill="#a0a0a0"/>
<rect x="619" y="0" width="1" height="21" fill="#a0a0a0"/>
<rect x="676" y="0" width="1" height="21" fill="#a0a0a0"/>
<rect x="915" y="0" width="1" height="23" fill="#909090"/>
<rect x="916" y="0" width="1" height="23" fill="#fff"/>
<rect x="919" y="1" width="3" height="1" fill="#a0a0a0"/>
<rect x="919" y="3" width="3" height="1" fill="#a0a0a0"/>
<rect x="919" y="5" width="3" height="1" fill="#a0a0a0"/>
<rect x="919" y="7" width="3" height="1" fill="#a0a0a0"/>
<rect x="919" y="9" width="3" height="1" fill="#a0a0a0"/>
<rect x="919" y="11" width="3" height="1" fill="#a0a0a0"/>
<rect x="919" y="13" width="3" height="1" fill="#a0a0a0"/>
<rect x="919" y="15" width="3" height="1" fill="#a0a0a0"/>
<rect x="919" y="17" width="3" height="1" fill="#a0a0a0"/>
<rect x="919" y="19" width="3" height="1" fill="#a0a0a0"/>
<rect x="1065" y="0" width="1" height="21" fill="#a0a0a0"/>
<rect x="1176" y="0" width="1" height="23" fill="#909090"/>
<rect x="1177" y="0" width="1" height="23" fill="#fff"/>
<rect x="259" y="5" width="1" height="14" fill="#484848"/>
<rect x="258" y="6" width="3" height="1" fill="#484848"/>
<rect x="257" y="16" width="14" height="1" fill="#484848"/>
<rect x="269" y="15" width="1" height="3" fill="#484848"/>
<rect x="287" y="5" width="1" height="14" fill="#484848"/>
<rect x="286" y="6" width="3" height="1" fill="#484848"/>
<rect x="285" y="16" width="14" height="1" fill="#484848"/>
<rect x="297" y="15" width="1" height="3" fill="#484848"/>
<rect x="315" y="5" width="1" height="14" fill="#484848"/>
<rect x="314" y="6" width="3" height="1" fill="#484848"/>
<rect x="313" y="16" width="14" height="1" fill="#484848"/>
<rect x="325" y="15" width="1" height="3" fill="#484848"/>
<rect x="439" y="5" width="1" height="14" fill="#484848"/>
<rect x="438" y="6" width="3" height="1" fill="#484848"/>
<rect x="437" y="16" width="14" height="1" fill="#484848"/>
<rect x="449" y="15" width="1" height="3" fill="#484848"/>
<rect x="467" y="5" width="1" height="14" fill="#484848"/>
<rect x="466" y="6" width="3" height="1" fill="#484848"/>
<rect x="465" y="16" width="14" height="1" fill="#484848"/>
<rect x="477" y="15" width="1" height="3" fill="#484848"/>
<rect x="265" y="6" width="1" height="9" fill="#008000"/>
<rect x="265" y="7" width="3" height="1" fill="#008000"/>
<rect x="263" y="13" width="3" height="1" fill="#008000"/>
<rect x="293" y="3" width="1" height="12" fill="#008000"/>
<rect x="291" y="5" width="5" height="8" fill="#008000"/>
<rect x="292" y="6" width="3" height="6" fill="#50e860"/>
<rect x="659" y="4" width="1" height="6" fill="#484848"/>
<rect x="659" y="13" width="1" height="6" fill="#484848"/>
<rect x="652" y="11" width="6" height="1" fill="#484848"/>
<rect x="661" y="11" width="6" height="1" fill="#484848"/>
<rect x="659" y="11" width="1" height="1" fill="#484848"/>
<rect x="693" y="5" width="1" height="13" fill="#484848"/>
<rect x="716" y="11" width="12" height="1" fill="#484848"/>
<rect x="799" y="4" width="1" height="1" fill="#484848"/>
<rect x="801" y="4" width="1" height="1" fill="#484848"/>
<rect x="803" y="4" width="1" height="1" fill="#484848"/>
<rect x="805" y="4" width="1" height="1" fill="#484848"/>
<rect x="807" y="4" width="1" height="1" fill="#484848"/>
<rect x="809" y="4" width="1" height="1" fill="#484848"/>
<rect x="811" y="4" width="1" height="1" fill="#484848"/>
<rect x="799" y="7" width="1" height="1" fill="#484848"/>
<rect x="801" y="7" width="1" height="1" fill="#484848"/>
<rect x="803" y="7" width="1" height="1" fill="#484848"/>
<rect x="805" y="7" width="1" height="1" fill="#484848"/>
<rect x="807" y="7" width="1" height="1" fill="#484848"/>
<rect x="809" y="7" width="1" height="1" fill="#484848"/>
<rect x="811" y="7" width="1" height="1" fill="#484848"/>
<rect x="799" y="11" width="1" height="1" fill="#484848"/>
<rect x="801" y="11" width="1" height="1" fill="#484848"/>
<rect x="803" y="11" width="1" height="1" fill="#484848"/>
<rect x="805" y="11" width="1" height="1" fill="#484848"/>
<rect x="807" y="11" width="1" height="1" fill="#484848"/>
<rect x="809" y="11" width="1" height="1" fill="#484848"/>
<rect x="811" y="11" width="1" height="1" fill="#484848"/>
<rect x="799" y="15" width="1" height="1" fill="#484848"/>
<rect x="801" y="15" width="1" height="1" fill="#484848"/>
<rect x="803" y="15" width="1" height="1" fill="#484848"/>
<rect x="805" y="15" width="1" height="1" fill="#484848"/>
<rect x="856" y="5" width="1" height="1" fill="#484848"/>
<rect x="856" y="17" width="1" height="1" fill="#484848"/>
<rect x="858" y="5" width="1" height="1" fill="#484848"/>
<rect x="858" y="17" width="1" height="1" fill="#484848"/>
<rect x="860" y="5" width="1" height="1" fill="#484848"/>
<rect x="860" y="17" width="1" height="1" fill="#484848"/>
<rect x="862" y="5" width="1" height="1" fill="#484848"/>
<rect x="862" y="17" width="1" height="1" fill="#484848"/>
<rect x="864" y="5" width="1" height="1" fill="#484848"/>
<rect x="864" y="17" width="1" height="1" fill="#484848"/>
<rect x="866" y="5" width="1" height="1" fill="#484848"/>
<rect x="866" y="17" width="1" height="1" fill="#484848"/>
<rect x="856" y="5" width="1" height="1" fill="#484848"/>
<rect x="867" y="5" width="1" height="1" fill="#484848"/>
<rect x="856" y="7" width="1" height="1" fill="#484848"/>
<rect x="867" y="7" width="1" height="1" fill="#484848"/>
<rect x="856" y="9" width="1" height="1" fill="#484848"/>
<rect x="867" y="9" width="1" height="1" fill="#484848"/>
<rect x="856" y="11" width="1" height="1" fill="#484848"/>
<rect x="867" y="11" width="1" height="1" fill="#484848"/>
<rect x="856" y="13" width="1" height="1" fill="#484848"/>
<rect x="867" y="13" width="1" height="1" fill="#484848"/>
<rect x="856" y="15" width="1" height="1" fill="#484848"/>
<rect x="867" y="15" width="1" height="1" fill="#484848"/>
<rect x="856" y="17" width="1" height="1" fill="#484848"/>
<rect x="867" y="17" width="1" height="1" fill="#484848"/>
<rect x="473" y="5" width="1" height="10" fill="#2070a0"/>
<g shape-rendering="geometricPrecision">
<path d="M15.7,3.5h6.8l4.3,4.2v9.3h-11.1z" fill="#fff" stroke="#808080" stroke-width="1" stroke-linejoin="round"/><path d="M22.5,3.5v4.2h4.3" fill="#e8e8e8" stroke="#808080" stroke-width="1"/><path d="M17.5,5.5h3M17.5,9.5h6M17.5,11.5h4.5M17.5,13.5h3" stroke="#909090" stroke-width="1" fill="none"/>
<path d="M23.7,9.6h3v3.9h3.9v3h-3.9v3.9h-3v-3.9h-3.9v-3h3.9z" fill="url(#gpl)" stroke="#0a8a10" stroke-width="1" stroke-linejoin="round"/>
<text x="33.6" y="14.9" fill="#000" font-size="12">新订单</text>
<path d="M87.2,3.9L97.0,10.2L97.9,12.9L90.3,18.9L81.9,13.0L86,8.6z" fill="#a86c10"/><path d="M87.9,5.0L96.0,10.4L91.4,14.9L84.0,11.7L86.7,8.8z" fill="url(#gold)"/><path d="M83.4,13.1L90.2,17.6" stroke="#f2d888" stroke-width="1.5" fill="none"/><path d="M91.5,17.0L97.0,12.6" stroke="#e6dca0" stroke-width="1.1" fill="none"/>
<path d="M112.1,4.2L115.6,6V11.8H112.1z" fill="#0a8cf8"/><path d="M112.1,4.2L113.4,3.1H119.6L123.2,5L123.2,6H115.6z" fill="#38a8ff"/><path d="M115.6,6H123.2V11.8H115.6z" fill="#189cff"/><path d="M113,4.1L115.6,6V11.4" stroke="#e8f6ff" stroke-width="0.8" fill="none"/><path d="M117.2,8.2h4.8" stroke="#f0faff" stroke-width="1.1"/><path d="M112.6,18.3a2.4,2.4 0 0 1 -0.4,-4.7a2.7,2.7 0 0 1 3.6,-1.6a3.3,3.3 0 0 1 5.9,0.6a2.5,2.5 0 0 1 3.9,2.6a1.9,1.9 0 0 1 -1.2,3.1z" fill="url(#cloud)" stroke="#405890" stroke-width="1.1" stroke-linejoin="round"/>
<circle cx="145.9" cy="10.9" r="7.6" fill="#f6f6f0"/><path d="M146,10.9L146,18.6A7.7,7.7 0 0 0 150.6,4.9z" fill="url(#sgn)"/><circle cx="145.9" cy="10.9" r="7.5" fill="none" stroke="url(#ring)" stroke-width="1.1" stroke-opacity="0.75"/><circle cx="145.9" cy="10.9" r="4.8" fill="none" stroke="url(#ring)" stroke-width="1" stroke-opacity="0.45"/><circle cx="145.6" cy="10.5" r="1.9" fill="#2456d0"/><rect x="146" y="11" width="1.8" height="7.7" fill="#18a018"/>
<path d="M165.3,9.8L180.9,9.3L180,12L174.9,18.7L171.6,18.4L165.7,12.4z" fill="url(#face)" stroke="#c89810" stroke-width="0.7" stroke-linejoin="round"/><ellipse cx="173" cy="7.9" rx="8" ry="2.5" transform="rotate(-4 173 7.9)" fill="#5cb4e6" stroke="#2088b8" stroke-width="0.9"/><ellipse cx="172.7" cy="5.3" rx="3.8" ry="2.7" fill="#84c8f0" stroke="#2088b8" stroke-width="0.8"/><path d="M169.2,6.9c2,1.2 5,1.2 7,0" stroke="#3c98c8" stroke-width="0.6" fill="none"/><circle cx="177.3" cy="14.8" r="4.2" fill="url(#stop)"/><rect x="175.9" y="13.3" width="2.9" height="2.9" fill="#fff"/>
<text x="185.8" y="14.9" fill="#000" font-size="12.1">自动交易</text>
<path d="M314.2,13.9C317,12.5 318,8.3 320,8.3C322,8.3 323.5,11.6 325.8,12.1" fill="none" stroke="#189018" stroke-width="1.3"/>
<path d="M354.90000000000003,13.2l4.6,4.2" stroke="#907000" stroke-width="3" stroke-linecap="round"/><path d="M355.1,13.4l4.3,3.9" stroke="#ecd040" stroke-width="1.5" stroke-linecap="round"/><circle cx="351.1" cy="8.9" r="5.4" fill="#d8f0f8" stroke="#3078c0" stroke-width="1.1"/>
<path d="M347.70000000000005,8.9h6.8" stroke="#3c8cb0" stroke-width="2"/>
<path d="M351.1,5.5v6.8" stroke="#3c8cb0" stroke-width="2"/>
<path d="M382.8,13.2l4.6,4.2" stroke="#907000" stroke-width="3" stroke-linecap="round"/><path d="M383,13.4l4.3,3.9" stroke="#ecd040" stroke-width="1.5" stroke-linecap="round"/><circle cx="379" cy="8.9" r="5.4" fill="#d8f0f8" stroke="#3078c0" stroke-width="1.1"/>
<path d="M375.6,8.9h6.8" stroke="#3c8cb0" stroke-width="2"/>
<rect x="401" y="3" width="8" height="8" fill="#30a010"/><rect x="402" y="6.2" width="6" height="4" fill="#fff"/><rect x="403" y="7.3" width="4" height="1" fill="#90d870"/><rect x="402" y="4" width="1" height="1" fill="#90d870"/>
<rect x="409" y="3" width="8" height="8" fill="#2050d0"/><rect x="410" y="6.2" width="6" height="4" fill="#fff"/><rect x="411" y="7.3" width="4" height="1" fill="#90a8f0"/><rect x="410" y="4" width="1" height="1" fill="#90a8f0"/>
<rect x="401" y="11" width="8" height="8" fill="#2050d0"/><rect x="402" y="14.2" width="6" height="4" fill="#fff"/><rect x="403" y="15.3" width="4" height="1" fill="#90a8f0"/><rect x="402" y="12" width="1" height="1" fill="#90a8f0"/>
<rect x="409" y="11" width="8" height="8" fill="#30a010"/><rect x="410" y="14.2" width="6" height="4" fill="#fff"/><rect x="411" y="15.3" width="4" height="1" fill="#90d870"/><rect x="410" y="12" width="1" height="1" fill="#90d870"/>
<path d="M444.3,7.3L448,10.5L444.3,13.8z" fill="#60e070" stroke="#109010" stroke-width="1" stroke-linejoin="round"/>
<path d="M479,10.5h-4" stroke="#d04000" stroke-width="1.2"/><path d="M474.2,10.5l3,-2.6l-0.6,2.6l0.6,2.6z" fill="#d04000"/>
<path d="M498.7,3.8h7l4,4v9h-11z" fill="#fff" stroke="#808080" stroke-width="1" stroke-linejoin="round"/><path d="M505.7,3.8v4h4" fill="#e8e8e8" stroke="#808080" stroke-width="1"/><path d="M502.5,6c-1.5,1.5 -1.5,6 0,8" stroke="#706040" stroke-width="0.9" fill="none"/>
<path d="M506.7,9.4h3v3.9h3.9v3h-3.9v3.9h-3v-3.9h-3.9v-3h3.9z" fill="url(#gpl)" stroke="#0a8a10" stroke-width="1" stroke-linejoin="round"/>
<g shape-rendering="crispEdges"><rect x="520" y="10" width="5" height="1"/><rect x="521" y="11" width="3" height="1"/><rect x="522" y="12" width="1" height="1"/></g>
<circle cx="544.1" cy="10.9" r="6.7" fill="#f8f8f8" stroke="url(#clk)" stroke-width="2.6"/><circle cx="544.1" cy="10.9" r="7.9" fill="none" stroke="#0a50a0" stroke-width="0.7"/><path d="M543.5,7.8v3.4h2.8" stroke="#303030" stroke-width="1.1" fill="none"/><path d="M543.2,13.6h2" stroke="#80b8f0" stroke-width="0.8"/>
<g shape-rendering="crispEdges"><rect x="559" y="10" width="5" height="1"/><rect x="560" y="11" width="3" height="1"/><rect x="561" y="12" width="1" height="1"/></g>
<rect x="575.5" y="4.3" width="15.2" height="13" fill="#fff" stroke="#3070c0" stroke-width="1"/><rect x="575.5" y="4.3" width="15.2" height="2.2" fill="#4890e0"/><path d="M576,11.8h14.5" stroke="#5090d8" stroke-width="1"/><path d="M577.5,10.3h1.8l1.6,-1.2h1.3l1.2,-1h1.2l1.2,1.2h1.6l1.3,-1.2h1" stroke="#a02000" stroke-width="1.1" fill="none"/><path d="M578.5,15.6h1.5l1.4,-1.2l1.5,1.2h1l1.7,-2.2l1.3,0.6l1.4,1.9" stroke="#008000" stroke-width="1.1" fill="none"/>
<g shape-rendering="crispEdges"><rect x="598" y="10" width="5" height="1"/><rect x="599" y="11" width="3" height="1"/><rect x="600" y="12" width="1" height="1"/></g>
<path d="M627,3.8V15L629.7,12.6L632.3,18L634.4,17L631.9,11.7L635.2,11.4z" fill="#484848"/>
<path d="M743.8,17.7L756.2,5.7" stroke="#484848" stroke-width="1.1"/>
<path d="M769.7,12.8L778.2,5M771.5,16.6L783.5,6.2M774.7,17.7L783.5,9.8" stroke="#484848" stroke-width="1"/><path d="M773,9.5l1,6M775.7,7.5l1.2,7M778.5,5.5l1,7M781.5,3.2l0.5,6" stroke="#484848" stroke-width="0.8"/>
<text x="780.6" y="19.6" fill="#303030" font-size="6.8" font-weight="bold">E</text>
<text x="808.4" y="19.6" fill="#303030" font-size="6.8" font-weight="bold">F</text>
<text x="829.7" y="15.6" fill="#505050" font-size="12">A</text>
<text transform="translate(858.3,15.6) scale(1.22,1)" fill="#585858" font-size="10.4" font-weight="bold">T</text>
<rect x="855.5" y="4.3" width="2" height="1" fill="#484848"/>
<path d="M886.4,4.6l3.3,3.2h-6.6z M886.4,9.6l2.4,-1.8h-4.8z" fill="#484848"/><path d="M893.4,17.9l3.4,-3.2h-6.8z M893.4,12.9l2.4,1.8h-4.8z" fill="#484848"/><path d="M885.6,12.2l1.8,1.8l4.4,-4.6" stroke="#484848" stroke-width="1.3" fill="none"/>
<g shape-rendering="crispEdges"><rect x="904" y="10" width="5" height="1"/><rect x="905" y="11" width="3" height="1"/><rect x="906" y="12" width="1" height="1"/></g>
<text transform="translate(930.5,15.2) scale(0.924,1)" fill="#404040" font-size="10.2" text-rendering="geometricPrecision">M1</text>
<text transform="translate(958.3,15.2) scale(0.924,1)" fill="#404040" font-size="10.2" text-rendering="geometricPrecision">M5</text>
<text transform="translate(984.6,15.2) scale(0.924,1)" fill="#404040" font-size="10.2" text-rendering="geometricPrecision">M15</text>
<text transform="translate(1012.5,15.2) scale(0.924,1)" fill="#404040" font-size="10.2" text-rendering="geometricPrecision">M30</text>
<text transform="translate(1043.7,15.2) scale(0.924,1)" fill="#404040" font-size="10.2" text-rendering="geometricPrecision">H1</text>
<text transform="translate(1070.8,15.2) scale(0.924,1)" fill="#404040" font-size="10.2" text-rendering="geometricPrecision">H4</text>
<text transform="translate(1099.5,15.2) scale(0.924,1)" fill="#404040" font-size="10.2" text-rendering="geometricPrecision">D1</text>
<text transform="translate(1127,15.2) scale(0.924,1)" fill="#404040" font-size="10.2" text-rendering="geometricPrecision">W1</text>
<text transform="translate(1153.8,15.2) scale(0.924,1)" fill="#404040" font-size="10.2" text-rendering="geometricPrecision">MN</text>
<path d="M1643.2,12L1639.4,15.8" stroke="#2050c8" stroke-width="2.4" stroke-linecap="round"/><circle cx="1646.6" cy="8.5" r="4.1" fill="#f6f6ff" stroke="#2458d0" stroke-width="1.3"/>
<path d="M1666.2,16.9l-0.2,2.9l3,-2.5z" fill="#d8d8e0" stroke="#a0a0a0" stroke-width="0.6"/><ellipse cx="1668.5" cy="12.9" rx="5.6" ry="4.6" fill="#e6e6ee" stroke="#a8a8a8" stroke-width="0.9"/><circle cx="1677.4" cy="8.5" r="8.2" fill="url(#badge)"/>
<text x="1676.4" y="13.2" fill="#fff" stroke="#fff" stroke-width="0.35" font-size="12.6" text-anchor="middle" font-family="'DejaVu Sans','Liberation Sans',sans-serif">1</text>
</g>
</svg>
</body></html>
